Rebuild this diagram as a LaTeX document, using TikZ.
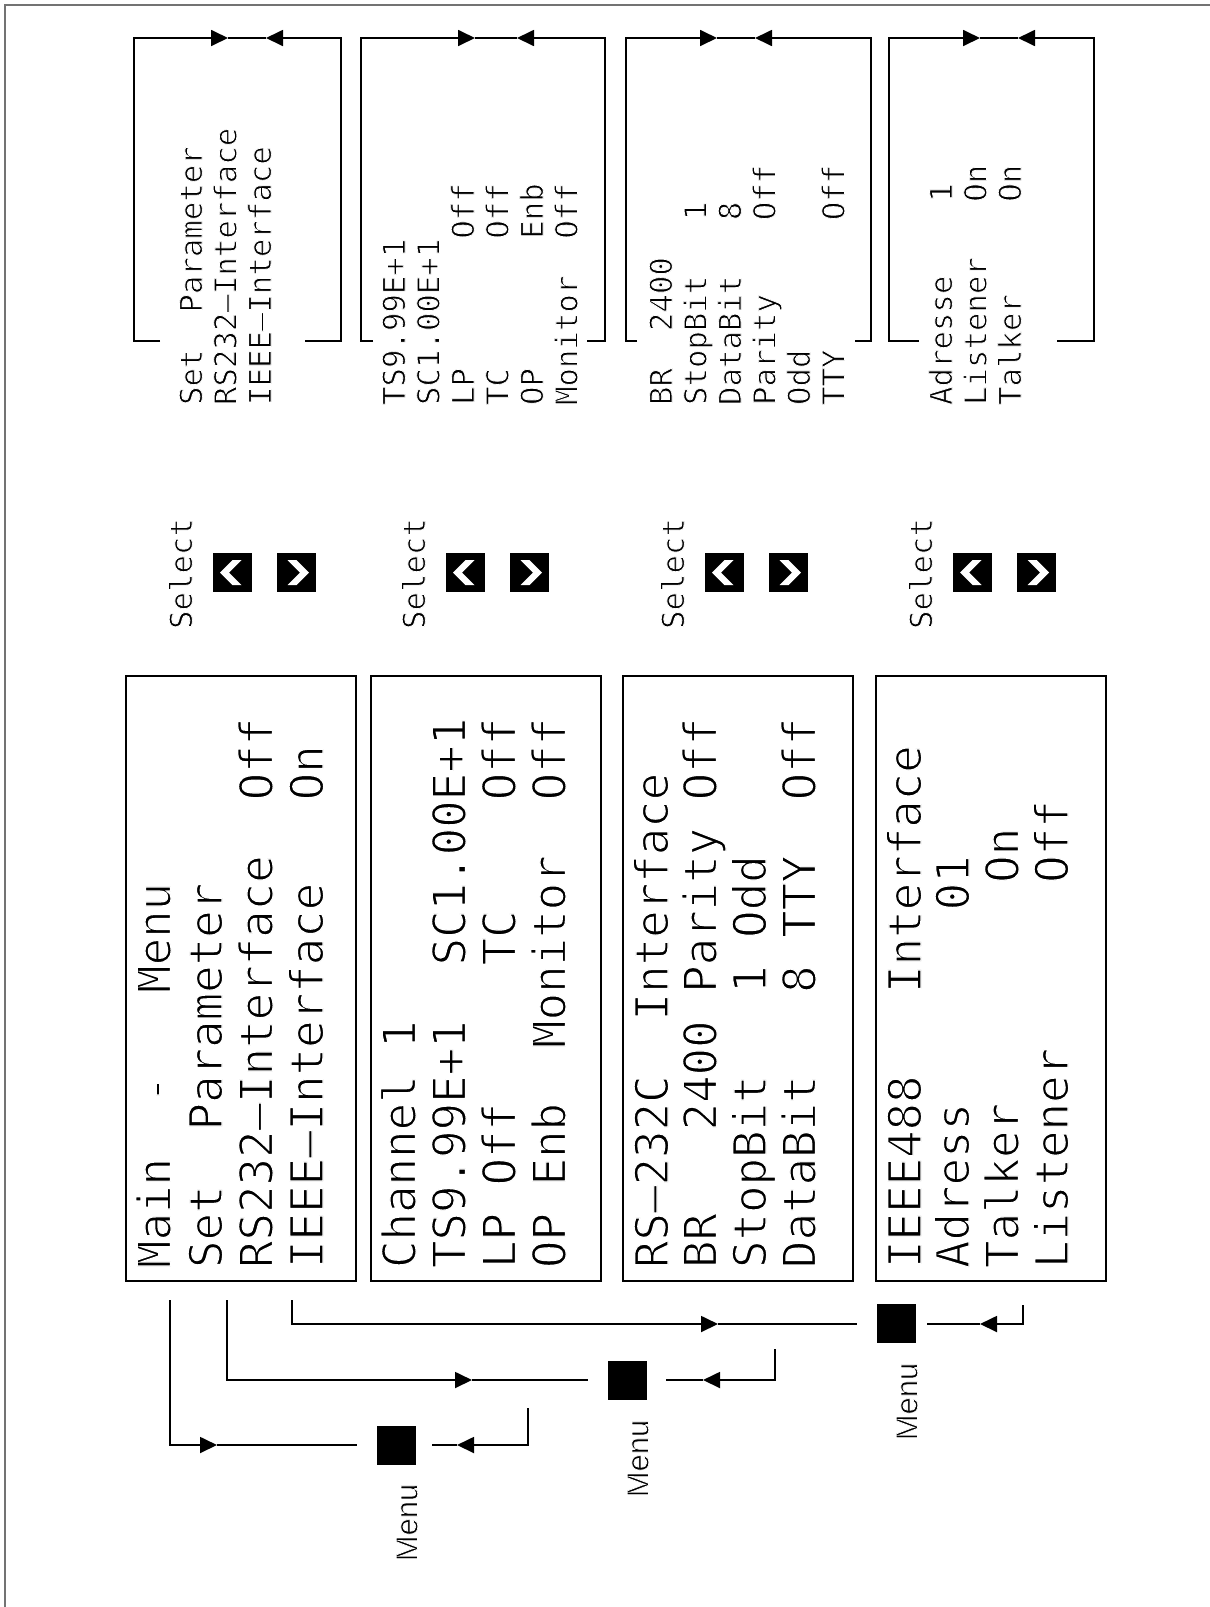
\documentclass[tikz,border=0pt]{standalone}
\usepackage{fontspec}
\usetikzlibrary{arrows.meta}
\newfontfamily\lcdfont{DejaVu Sans Mono}
\newfontfamily\labfont{Liberation Sans}
\newcommand\lcdbigsz{\lcdfont\fontsize{45.7pt}{50pt}\selectfont}
\newcommand\lcdsmallsz{\lcdfont\fontsize{30.7pt}{34pt}\selectfont}
\newcommand\thinon[1]{\special{pdf:code 2 Tr #1 w 1 1 1 RG}}
\newcommand\thinoff{\special{pdf:code 0 Tr 0 0 0 RG}}
\begin{document}
\begin{tikzpicture}[x=1pt,y=-1pt,
  screen/.style={draw, line width=1.8pt, inner sep=0pt, outer sep=0pt, minimum width=230pt, minimum height=605pt, anchor=north west},
  bigtxt/.style={font=\lcdbigsz, rotate=90, anchor=base west, inner sep=0pt, outer sep=0pt,
    execute at begin node={\thinon{1.2}}, execute at end node={\thinoff}},
  smalltxt/.style={font=\lcdsmallsz, rotate=90, anchor=base west, inner sep=0pt, outer sep=0pt,
    execute at begin node={\thinon{0.8}}, execute at end node={\thinoff}},
  menulab/.style={font=\labfont\fontsize{31pt}{34pt}\selectfont, rotate=90, anchor=base, inner sep=0pt, outer sep=0pt,
    execute at begin node={\thinon{0.7}}, execute at end node={\thinoff}},
  conn/.style={line width=1.8pt},
  arr/.style={-{Triangle[length=17pt,width=16pt]}},
  keybtn/.style={fill=black, minimum size=39pt, inner sep=0pt, outer sep=0pt},
  menubtn/.style={fill=black, minimum size=39pt, inner sep=0pt, outer sep=0pt}
]
\useasboundingbox (0,0) rectangle (1210,1607);
\fill[white] (0,0) rectangle (1210,1607);
\draw[line width=2pt, black!55] (5,1607) -- (5,5) -- (1210,5);

% ---------- LCD screens ----------
\node[screen] (b1) at (126,676) {};
\node[screen] (b2) at (371,676) {};
\node[screen] (b3) at (623,676) {};
\node[screen] (b4) at (876,676) {};

\node[bigtxt] (b1a) at (170.5,1268) {Main~~-~~~Menu};
\node[bigtxt] (b1b) at (222,1268) {Set~~Parameter};
\node[bigtxt] (b1c) at (272.5,1268) {RS232–Interface~~Off};
\node[bigtxt] (b1d) at (323,1268) {IEEE–Interface~~~On};

\node[bigtxt] (b2a) at (415.5,1268) {Channel~1};
\node[bigtxt] (b2b) at (465.5,1268) {TS9.99E+1~~SC1.00E+1};
\node[bigtxt] (b2c) at (515.5,1268) {LP~Off~~~~~TC~~~~Off};
\node[bigtxt] (b2d) at (565.5,1268) {OP~Enb~~Monitor~~Off};

\node[bigtxt] (b3a) at (668,1268) {RS–232C~~Interface};
\node[bigtxt] (b3b) at (716.5,1268) {BR~~~2400~Parity~Off};
\node[bigtxt] (b3c) at (766,1268) {StopBit~~~1~Odd};
\node[bigtxt] (b3d) at (815.5,1268) {DataBit~~~8~TTY~~Off};

\node[bigtxt] (b4a) at (921,1268) {IEEE488~~~Interface};
\node[bigtxt] (b4b) at (969,1268) {Adress~~~~~~~01};
\node[bigtxt] (b4c) at (1018.5,1268) {Talker~~~~~~~~On};
\node[bigtxt] (b4d) at (1068,1268) {Listener~~~~~~Off};

% ---------- Select groups ----------
\foreach \n/\bx in {1/192, 2/425, 3/684, 4/932}{
  \node[smalltxt] (sel\n) at (\bx,629) {Select};
  \node[keybtn] (kl\n) at (\bx+40.5,572.5) {};
  \node[keybtn] (kr\n) at (\bx+104.5,572.5) {};
  \fill[white, shift={(kl\n.center)}] (-12.5,0) -- (0,-12.5) -- (9,-12.5) -- (-3.5,0) -- (9,12.5) -- (0,12.5) -- cycle;
  \fill[white, shift={(kr\n.center)}] (12.5,0) -- (0,-12.5) -- (-9,-12.5) -- (3.5,0) -- (-9,12.5) -- (0,12.5) -- cycle;
}

% ---------- Right panels ----------
\node[smalltxt] (p1a) at (202,405) {Set~~Parameter};
\node[smalltxt] (p1b) at (236.5,405) {RS232–Interface};
\node[smalltxt] (p1c) at (271,405) {IEEE–Interface};

\node[smalltxt] (p2a) at (405,405) {TS9.99E+1};
\node[smalltxt] (p2b) at (439.5,405) {SC1.00E+1};
\node[smalltxt] (p2c) at (474,405) {LP~~~~~~~Off};
\node[smalltxt] (p2d) at (508.5,405) {TC~~~~~~~Off};
\node[smalltxt] (p2e) at (543,405) {OP~~~~~~~Enb};
\node[smalltxt] (p2f) at (577.5,405) {Monitor~~Off};

\node[smalltxt] (p3a) at (672,405) {BR~~2400};
\node[smalltxt] (p3b) at (706.5,405) {StopBit~~~1};
\node[smalltxt] (p3c) at (741,405) {DataBit~~~8};
\node[smalltxt] (p3d) at (775.5,405) {Parity~~~~Off};
\node[smalltxt] (p3e) at (810,405) {Odd};
\node[smalltxt] (p3f) at (844.5,405) {TTY~~~~~~~Off};

\node[smalltxt] (p4a) at (952,405) {Adresse~~~~1};
\node[smalltxt] (p4b) at (986.5,405) {Listener~~~On};
\node[smalltxt] (p4c) at (1021,405) {Talker~~~~~On};

% panel outlines: left/right x, left stub end, right stub start, tips
\foreach \n/\L/\R/\ls/\rs/\ta/\tb in {1/134/341/160/305/228/266, 2/361/605/373/587/475/517, 3/626/871/637/855/717/755, 4/889/1094/919/1057/980/1018}{
  \coordinate (pls\n) at (\ls,341);
  \coordinate (pbl\n) at (\L,341);
  \coordinate (ptl\n) at (\L,38);
  \coordinate (pta\n) at (\ta,38);
  \coordinate (ptb\n) at (\tb,38);
  \coordinate (ptr\n) at (\R,38);
  \coordinate (pbr\n) at (\R,341);
  \coordinate (prs\n) at (\rs,341);
  \draw[conn, arr] (pls\n) -- (pbl\n) -- (ptl\n) -- (pta\n);
  \draw[conn] (pta\n) -- (ptb\n);
  \draw[conn, arr] (prs\n) -- (pbr\n) -- (ptr\n) -- (ptb\n);
}

% ---------- Menu buttons ----------
\node[menubtn] (m1) at (396.5,1445) {};
\node[menubtn] (m2) at (627.5,1380.5) {};
\node[menubtn] (m3) at (896.5,1323.5) {};
\node[menulab] (ml1) at (417.5,1522.5) {Menu};
\node[menulab] (ml2) at (648.5,1458.5) {Menu};
\node[menulab] (ml3) at (917.5,1401.5) {Menu};

% connectors
\coordinate (v1) at (170,1300);
\coordinate (t1) at (217,1445);
\coordinate (e1) at (357,1445);
\coordinate (r1) at (528,1408);
\coordinate (u1) at (457,1445);
\coordinate (f1) at (432,1445);
\draw[conn, arr] (v1) |- (t1);
\draw[conn] (t1) -- (e1);
\draw[conn, arr] (r1) |- (u1);
\draw[conn] (u1) -- (f1);

\coordinate (v2) at (227,1300);
\coordinate (t2) at (472,1380);
\coordinate (e2) at (588,1380);
\coordinate (r2) at (775,1349);
\coordinate (u2) at (703,1380);
\coordinate (f2) at (666,1380);
\draw[conn, arr] (v2) |- (t2);
\draw[conn] (t2) -- (e2);
\draw[conn, arr] (r2) |- (u2);
\draw[conn] (u2) -- (f2);

\coordinate (v3) at (292,1300);
\coordinate (t3) at (718,1324);
\coordinate (e3) at (857,1324);
\coordinate (r3) at (1023,1305);
\coordinate (u3) at (980,1324);
\coordinate (f3) at (927,1324);
\draw[conn, arr] (v3) |- (t3);
\draw[conn] (t3) -- (e3);
\draw[conn, arr] (r3) |- (u3);
\draw[conn] (u3) -- (f3);
\end{tikzpicture}
\end{document}
